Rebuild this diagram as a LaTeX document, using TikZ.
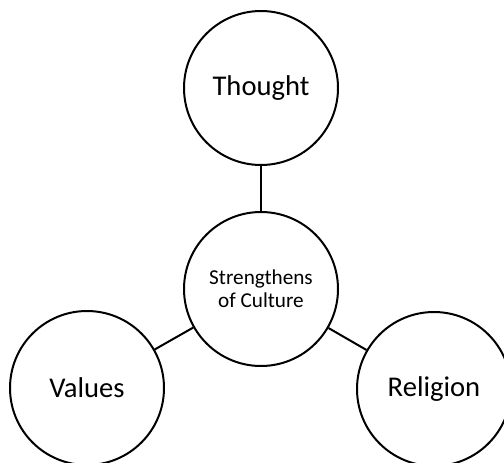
\documentclass[tikz,border=0pt]{standalone}
\usepackage{fontspec}
\setmainfont{Carlito}
\usepackage{tikz}
\usetikzlibrary{positioning}

\begin{document}
\begin{tikzpicture}[
    x=1pt, y=1pt,
    circ/.style={draw, circle, line width=1pt, minimum size=77pt, inner sep=0pt, align=center},
    big/.style={font=\fontsize{14.3}{17}\selectfont},
    small/.style={font=\fontsize{10.6}{11.5}\selectfont},
    link/.style={line width=1pt}
]
    \useasboundingbox (0,0) rectangle (252,231);
    \clip (0,0) rectangle (252,231);
    % Circles
    \node[circ, small] (culture) at (130.5,86.5) {Strengthens\\of Culture};
    \node[circ, big] (thought) at (130.5,187) {Thought};
    \node[circ, big] (values) at (43.5,37) {Values};
    \node[circ, big] (religion) at (217,36.5) {Religion};

    % Links
    \draw[link] (thought) -- (culture);
    \draw[link] (values) -- (culture);
    \draw[link] (religion) -- (culture);
\end{tikzpicture}
\end{document}
